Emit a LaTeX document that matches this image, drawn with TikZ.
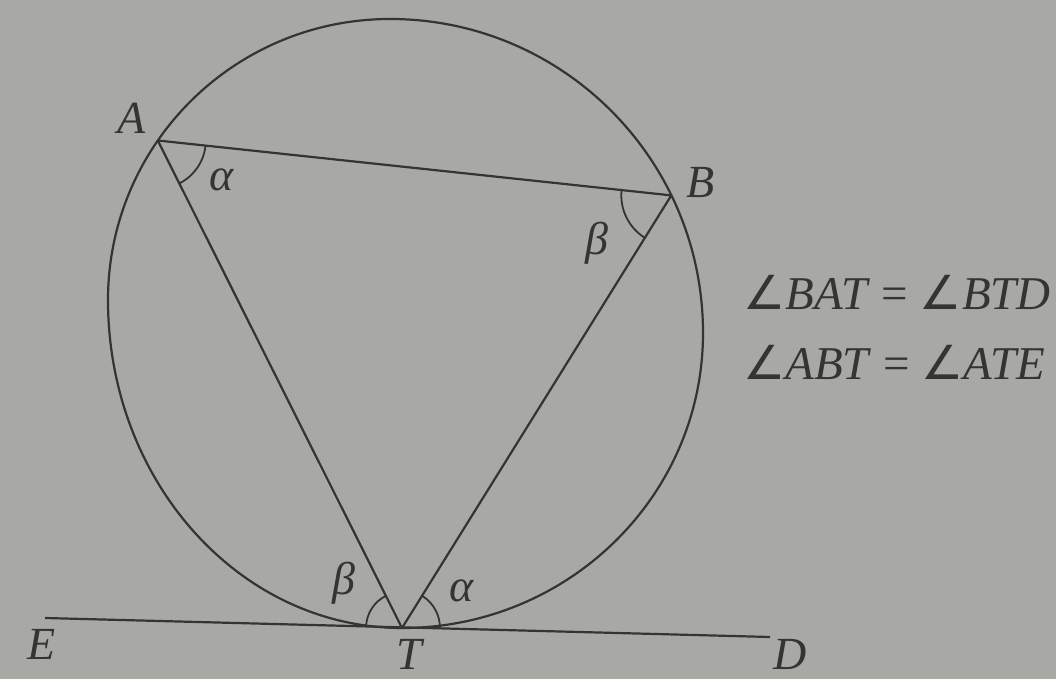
\documentclass[tikz,border=0pt]{standalone}
\usepackage{fontspec}
\setmainfont{Liberation Serif}
\newfontfamily\symf{DejaVu Sans}
\definecolor{bg}{RGB}{168,168,165}
\definecolor{ink}{RGB}{52,52,52}
\tikzset{
  geo/.style={draw=ink, line width=2.2pt, line join=round},
  anglearc/.style={draw=ink, line width=1.8pt},
  lbl/.style={text=ink, inner sep=0pt, font=\fontsize{46}{50}\selectfont\itshape},
  eqn/.style={text=ink, inner sep=0pt, anchor=base west, font=\fontsize{47}{52}\selectfont}
}
\newcommand{\ang}{{\symf ∠}}
\begin{document}
\begin{tikzpicture}[x=1pt,y=1pt]
\useasboundingbox[fill=bg] (0,0) rectangle (1056,679);
% key points
\coordinate (A) at (157.8,538.5);
\coordinate (B) at (671.3,483.6);
\coordinate (T) at (402,51);
\coordinate (Eend) at (45,61);
\coordinate (Dend) at (770,42);
% circle (as photographed, four elliptic quarters)
\draw[geo] (703,346)
  arc[start angle=0, end angle=90, x radius=313, y radius=314]
  arc[start angle=90, end angle=180, x radius=282, y radius=281]
  arc[start angle=180, end angle=270, x radius=294, y radius=328]
  arc[start angle=270, end angle=360, x radius=301, y radius=295] -- cycle;
% triangle and tangent
\draw[geo] (A) -- (B) -- (T) -- cycle;
\draw[geo] (Eend) -- (Dend);
% angle arcs
\draw[anglearc] ([shift={(-6.10:48)}]A) arc[start angle=-6.10, end angle=-63.39, radius=48];
\draw[anglearc] ([shift={(173.90:50)}]B) arc[start angle=173.90, end angle=238.10, radius=50];
\draw[anglearc] ([shift={(116.61:36)}]T) arc[start angle=116.61, end angle=178.4, radius=36];
\draw[anglearc] ([shift={(-1.4:38)}]T) arc[start angle=-1.4, end angle=58.10, radius=38];
% labels
\node[lbl] (lA) at (132,561) {A};
\node[lbl] (lB) at (701,496) {B};
\node[lbl] (lT) at (409,25) {T};
\node[lbl] (lE) at (42,35) {E};
\node[lbl] (lD) at (790,25) {D};
\node[lbl] (aA) at (222,499) {α};
\node[lbl] (bB) at (597,436) {β};
\node[lbl] (bT) at (344,96) {β};
\node[lbl] (aT) at (462,88) {α};
% relations
\node[eqn] (eq1) at (743,369) {\ang\textit{BAT} = \ang\textit{BTD}};
\node[eqn] (eq2) at (743,299) {\ang\textit{ABT} = \ang\textit{ATE}};
\end{tikzpicture}
\end{document}
